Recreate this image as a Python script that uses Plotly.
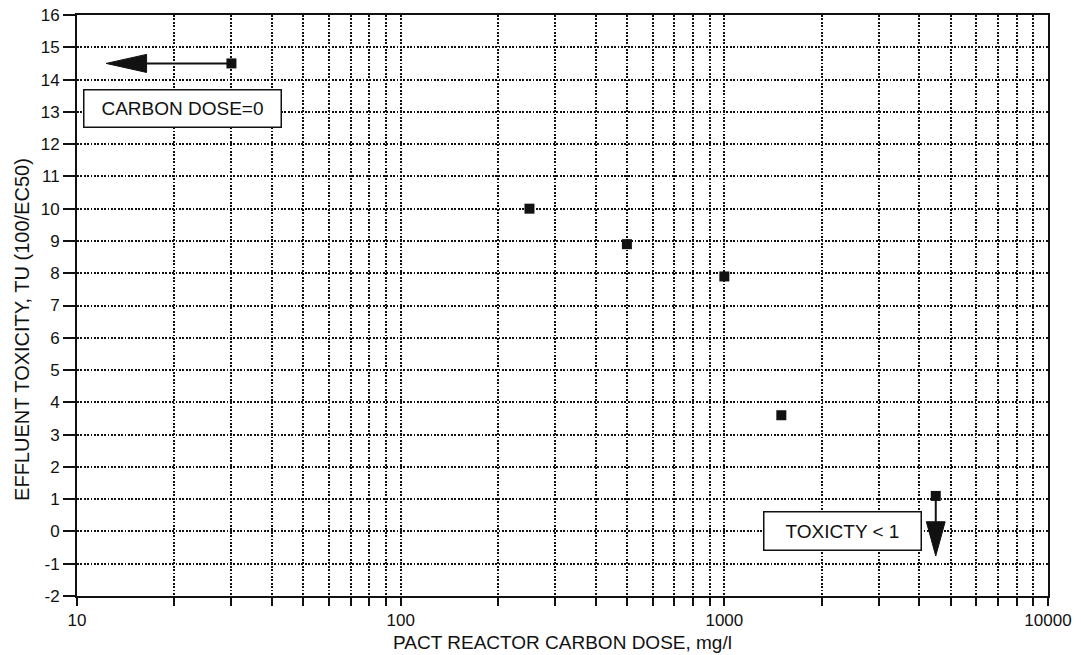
import math
import plotly.graph_objects as go

# PACT reactor carbon dose (mg/l) vs effluent toxicity (TU)
carbon_dose = [30, 250, 500, 1000, 1500, 4500]
toxicity_tu = [14.5, 10.0, 8.9, 7.9, 3.6, 1.1]

x_tick_decades = [10, 100, 1000, 10000]
y_ticks = list(range(-2, 17))

FONT = "Liberation Sans, Arial, Helvetica, sans-serif"
INK = "#111111"

fig = go.Figure()

# measured points
fig.add_trace(go.Scatter(
    x=carbon_dose, y=toxicity_tu, mode="markers",
    marker=dict(symbol="square", size=10, color=INK, line=dict(width=0)),
    showlegend=False, hoverinfo="x+y",
))

# left-pointing arrow from the zero-dose point (plotted at the first dose)
x0, y0 = carbon_dose[0], toxicity_tu[0]
tip_lx, base_lx, half_h = 1.09, 1.215, 0.28
fig.add_trace(go.Scatter(
    x=[x0, 10 ** base_lx], y=[y0, y0], mode="lines",
    line=dict(color=INK, width=2), showlegend=False, hoverinfo="skip",
))
fig.add_trace(go.Scatter(
    x=[10 ** tip_lx, 10 ** base_lx, 10 ** base_lx, 10 ** tip_lx],
    y=[y0, y0 + half_h, y0 - half_h, y0],
    mode="lines", fill="toself", fillcolor=INK,
    line=dict(color=INK, width=1), showlegend=False, hoverinfo="skip",
))

# downward arrow from the last point (toxicity below 1)
x1, y1 = carbon_dose[-1], toxicity_tu[-1]
tip_y, base_y, half_w = -0.76, 0.3, 0.029
lx1 = math.log10(x1)
fig.add_trace(go.Scatter(
    x=[x1, x1], y=[y1, base_y], mode="lines",
    line=dict(color=INK, width=2), showlegend=False, hoverinfo="skip",
))
fig.add_trace(go.Scatter(
    x=[x1, 10 ** (lx1 - half_w), 10 ** (lx1 + half_w), x1],
    y=[tip_y, base_y, base_y, tip_y],
    mode="lines", fill="toself", fillcolor=INK,
    line=dict(color=INK, width=1), showlegend=False, hoverinfo="skip",
))

# x ticks at every 1..9 multiple of each decade, labels on decades only
x_tickvals, x_ticktext = [], []
for d in x_tick_decades[:-1]:
    for m in range(1, 10):
        x_tickvals.append(d * m)
        x_ticktext.append(str(d) if m == 1 else "")
x_tickvals.append(x_tick_decades[-1])
x_ticktext.append(str(x_tick_decades[-1]))

grid = dict(gridcolor="#111111", gridwidth=1.8, griddash="1.8px,1.6px")

fig.update_xaxes(
    type="log", range=[1, 4], tickvals=x_tickvals, ticktext=x_ticktext,
    ticks="outside", ticklen=8, tickwidth=1.5, tickcolor=INK,
    showline=True, linecolor=INK, linewidth=2, mirror=True,
    showgrid=True, zeroline=False, automargin=False,
    tickfont=dict(family=FONT, size=17, color=INK),
    title=dict(text="PACT REACTOR CARBON DOSE, mg/l",
               font=dict(family=FONT, size=19, color=INK), standoff=6),
    **grid,
)
fig.update_yaxes(
    range=[-2, 16], tickvals=y_ticks, ticktext=[str(v) for v in y_ticks],
    ticks="outside", ticklen=12, tickwidth=1.5, tickcolor=INK,
    showline=True, linecolor=INK, linewidth=2, mirror=True,
    showgrid=True, zeroline=False, automargin=False,
    tickfont=dict(family=FONT, size=17, color=INK),
    **grid,
)

# y-axis title
fig.add_annotation(
    x=0, y=0.458, xref="paper", yref="paper", xshift=-55,
    xanchor="center", yanchor="middle", textangle=-90,
    text="EFFLUENT TOXICITY, TU (100/EC50)", showarrow=False,
    font=dict(family=FONT, size=20, color=INK),
)

# labelled boxes
box_font = dict(family=FONT, size=19, color=INK)
fig.add_annotation(
    x=0.1087, y=0.8396, xref="paper", yref="paper",
    xanchor="center", yanchor="middle",
    text="CARBON DOSE=0", showarrow=False, font=box_font,
    bgcolor="white", bordercolor=INK, borderwidth=1.5,
    width=194, height=34, align="center",
)
fig.add_annotation(
    x=0.788, y=0.1115, xref="paper", yref="paper",
    xanchor="center", yanchor="middle",
    text="TOXICTY < 1", showarrow=False, font=box_font,
    bgcolor="white", bordercolor=INK, borderwidth=1.5,
    width=154, height=35, align="center",
)

fig.update_layout(
    width=1081, height=655,
    margin=dict(l=77, r=33, t=15, b=59, autoexpand=False),
    paper_bgcolor="white", plot_bgcolor="white",
    font=dict(family=FONT, color=INK),
)

fig.write_html("out.html")
